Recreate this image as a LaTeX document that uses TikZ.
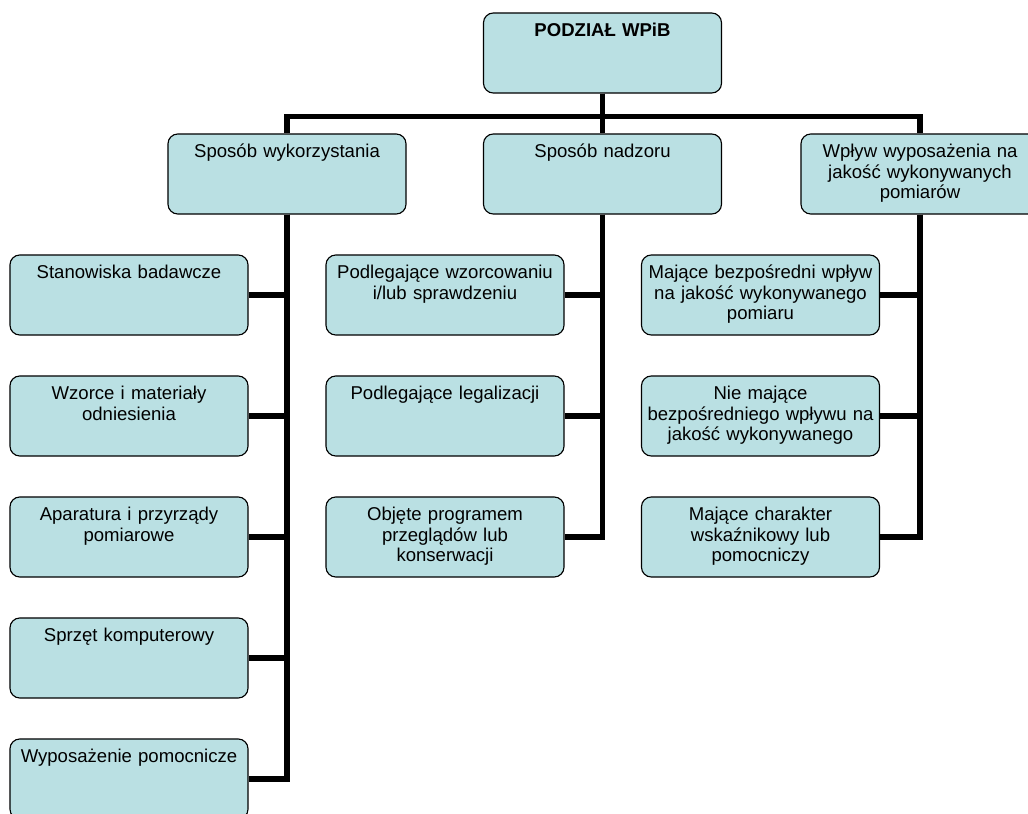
\documentclass[tikz,border=0pt]{standalone}
\usepackage{fontspec}
\setmainfont{Liberation Sans}
\definecolor{boxfill}{RGB}{186,224,227}

\begin{document}
\begin{tikzpicture}[x=0.025cm, y=-0.025cm,
	box/.style={draw, line width=0.8pt, rounded corners=7pt, fill=boxfill, text width=165pt, align=center, inner xsep=2.15pt, inner ysep=0pt, text height=16.6pt, text depth=40.3pt, font=\fontsize{13.2}{14.8}\selectfont},
	link/.style={line width=3.6pt}]
	\clip (0,0) rectangle (1028,814);
	\node[box, name=top] at (602.5, 53) {\textbf{PODZIAŁ WPiB}};
	\node[box, name=use] at (287, 174) {Sposób wykorzystania};
	\node[box, name=nad] at (602.5, 174) {Sposób nadzoru};
	\node[box, name=wpl] at (920, 174) {Wpływ wyposażenia na\\jakość wykonywanych\\pomiarów};
	\node[box, name=s1] at (129, 295) {Stanowiska badawcze};
	\node[box, name=s2] at (129, 416) {Wzorce i materiały\\odniesienia};
	\node[box, name=s3] at (129, 537) {Aparatura i przyrządy\\pomiarowe};
	\node[box, name=s4] at (129, 658) {Sprzęt komputerowy};
	\node[box, name=s5] at (129, 779) {Wyposażenie pomocnicze};
	\node[box, name=n1] at (445, 295) {Podlegające wzorcowaniu\\i/lub sprawdzeniu};
	\node[box, name=n2] at (445, 416) {Podlegające legalizacji};
	\node[box, name=n3] at (445, 537) {Objęte programem\\przeglądów lub\\konserwacji};
	\node[box, name=w1] at (760.5, 295) {Mające bezpośredni wpływ\\na jakość wykonywanego\\pomiaru};
	\node[box, name=w2] at (760.5, 416) {Nie mające\\bezpośredniego wpływu na\\jakość wykonywanego};
	\node[box, name=w3] at (760.5, 537) {Mające charakter\\wskaźnikowy lub\\pomocniczy};
	\draw[link] (top.south) -- ++(0,23) -| (use.north);
	\draw[link] (top.south) -- ++(0,23) -| (wpl.north);
	\draw[link] (top.south) -- (nad.north);
	\foreach \c in {s1,s2,s3,s4,s5}
		\draw[link] (use.south) |- (\c.east);
	\foreach \c in {n1,n2,n3}
		\draw[link] (nad.south) |- (\c.east);
	\foreach \c in {w1,w2,w3}
		\draw[link] (wpl.south) |- (\c.east);
\end{tikzpicture}
\end{document}
